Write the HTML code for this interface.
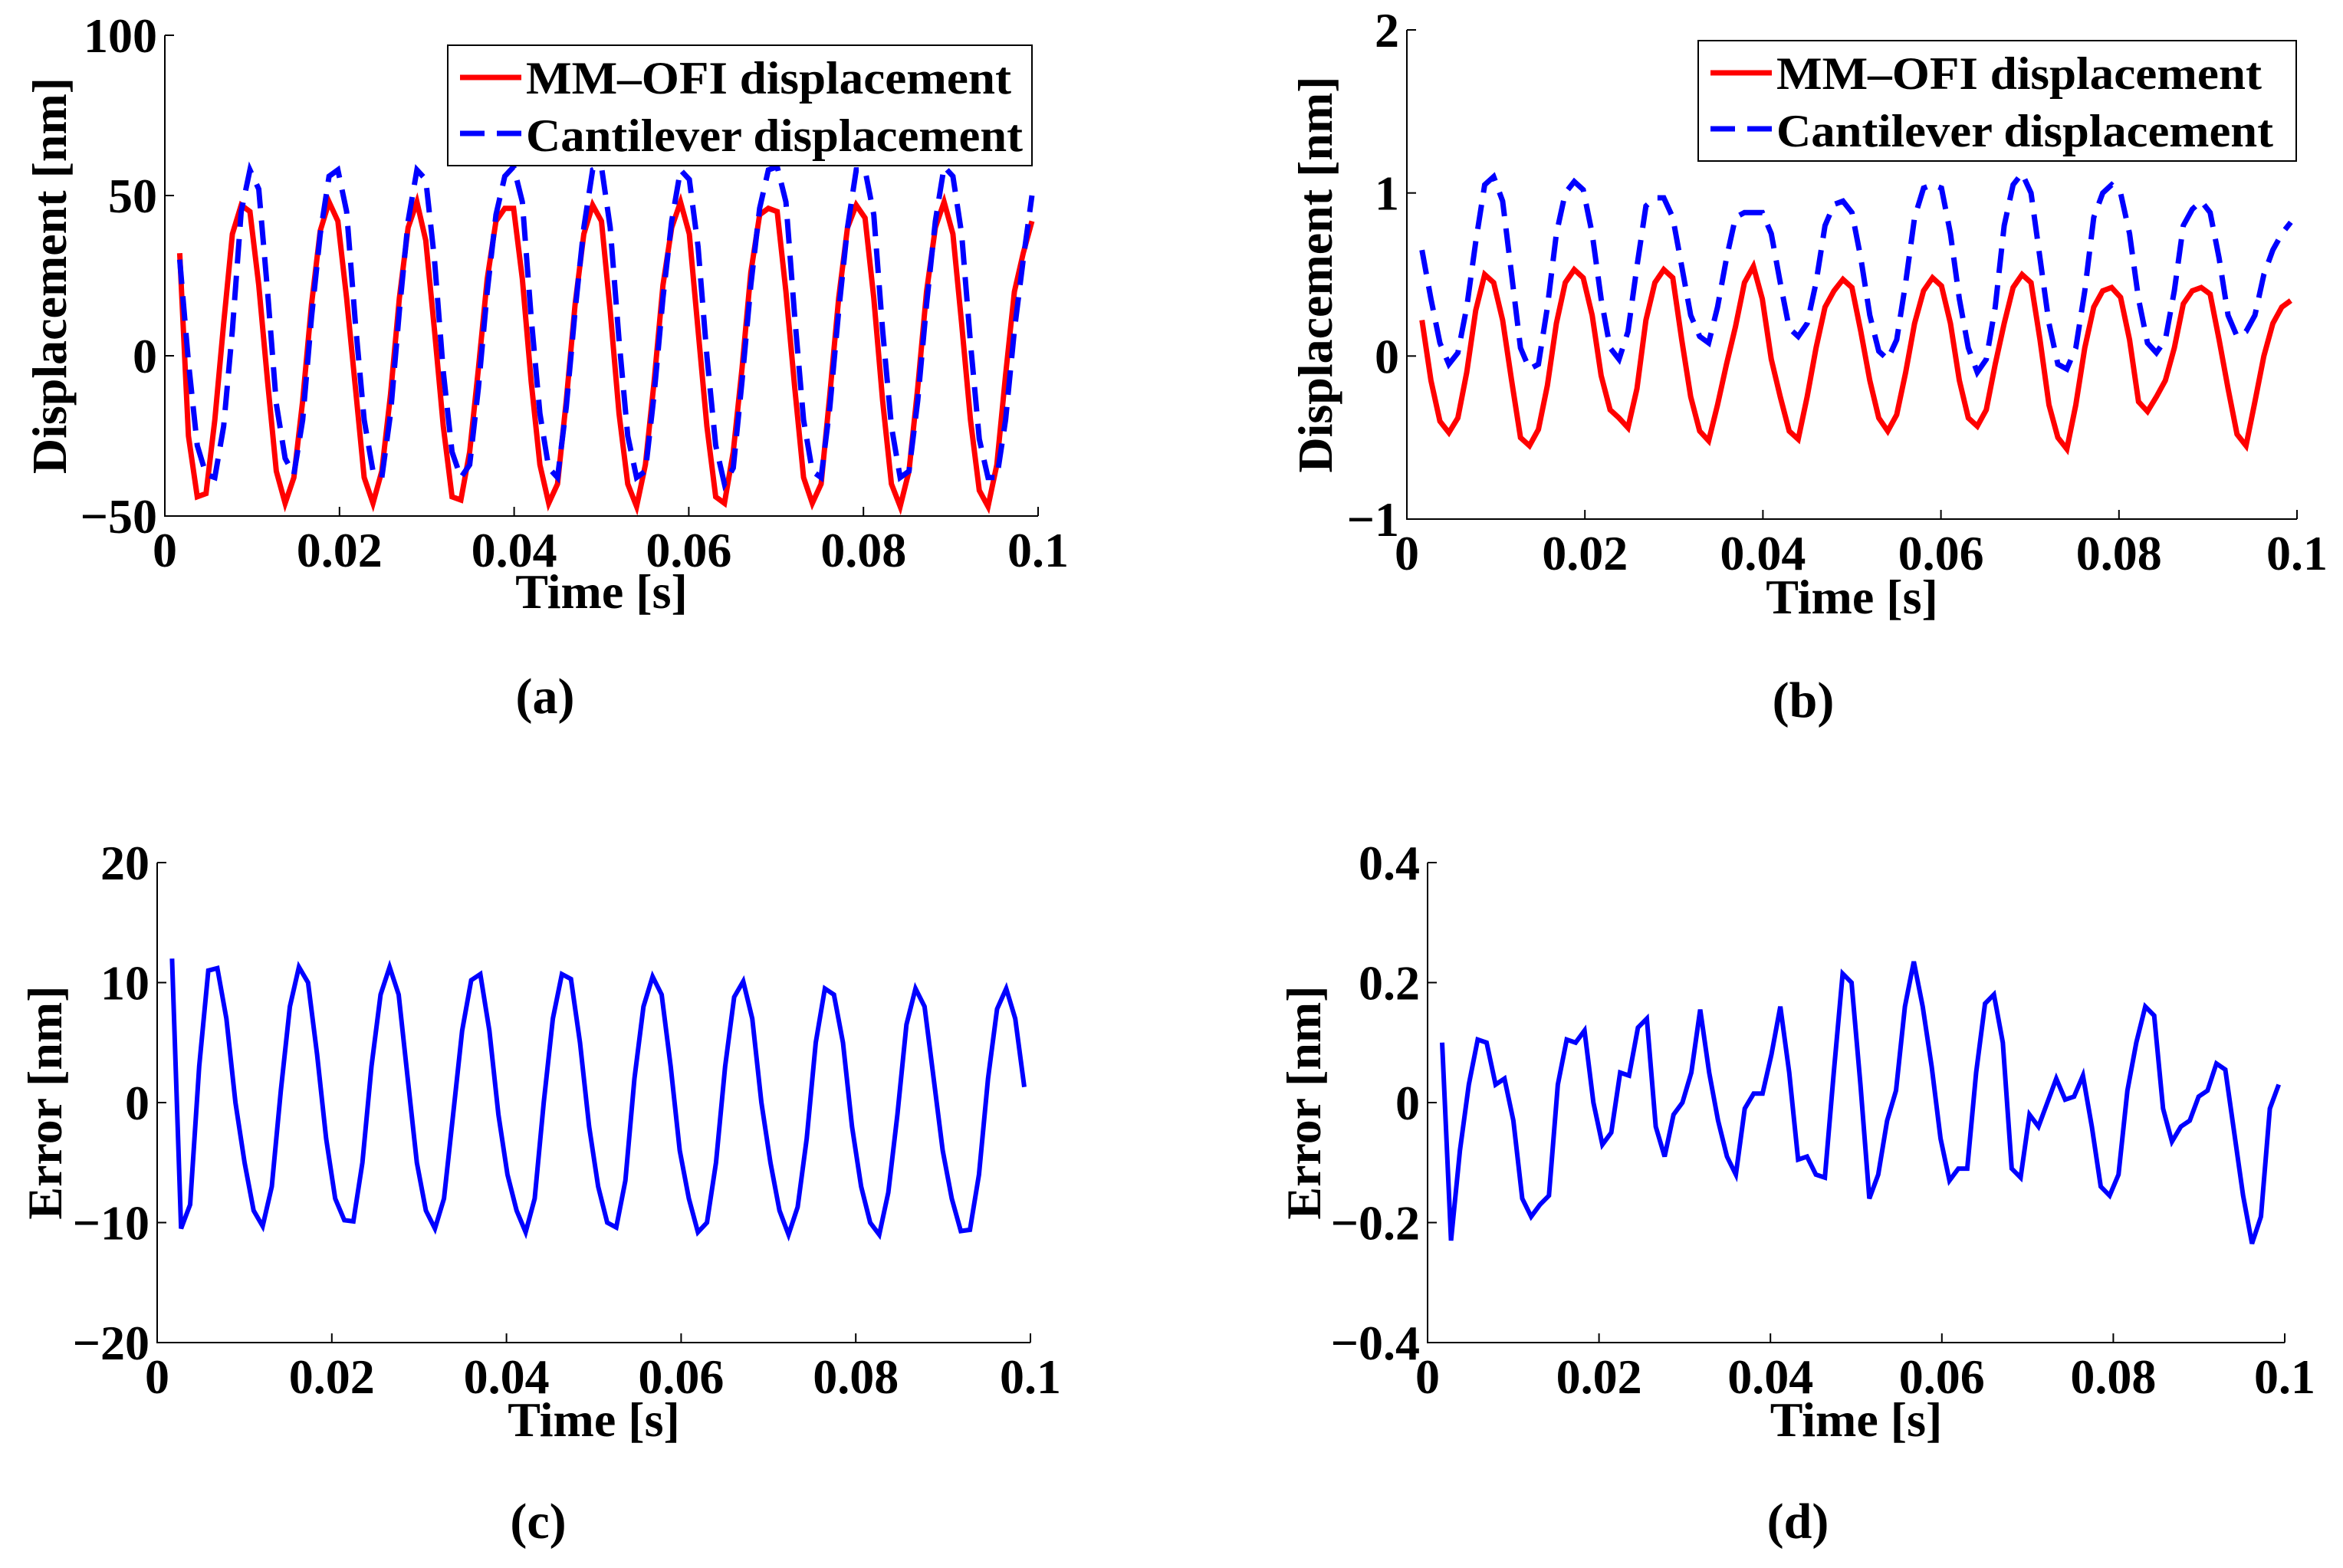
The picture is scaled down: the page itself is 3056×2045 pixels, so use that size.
<!DOCTYPE html>
<html><head><meta charset="utf-8"><style>
html,body{margin:0;padding:0;background:#fff}
svg{display:block}
text{font-family:"Liberation Serif",serif;font-weight:bold;fill:#000}
</style></head><body>
<svg id="fig" width="3056" height="2045" viewBox="0 0 3056 2045" xmlns="http://www.w3.org/2000/svg"></svg>
<script>
// ---- data ----
const tStart = 0.0017;
const tEnd = 0.0993;
const xTicks = [0, 0.02, 0.04, 0.06, 0.08, 0.1];
const xTickLabels = ["0", "0.02", "0.04", "0.06", "0.08", "0.1"];
const aTicks = [-50, 0, 50, 100];
const aTickLabels = ["\u221250", "0", "50", "100"];
const bTicks = [-1, 0, 1, 2];
const bTickLabels = ["\u22121", "0", "1", "2"];
const cTicks = [-20, -10, 0, 10, 20];
const cTickLabels = ["\u221220", "\u221210", "0", "10", "20"];
const dTicks = [-0.4, -0.2, 0, 0.2, 0.4];
const dTickLabels = ["\u22120.4", "\u22120.2", "0", "0.2", "0.4"];

const aOfi = [32,-25,-44,-43,-20,10,38,47,
 45,22,-8,-36,-46,-38,-14,16,39,48,
 42,18,-10,-38,-46,-36,-12,18,40,48,
 36,8,-22,-44,-45,-30,-4,24,42,46,
 46,24,-8,-34,-46,-40,-14,16,38,47,
 42,14,-18,-40,-47,-34,-8,22,40,48,
 38,8,-22,-44,-46,-30,-4,26,44,46,
 45,20,-10,-38,-46,-40,-12,18,40,47,
 43,18,-14,-40,-47,-36,-10,20,40,48,
 38,10,-20,-42,-47,-34,-6,20,32,42];
const aCant = [30,-2,-28,-37,-38,-22,8,45,
 58,52,20,-15,-32,-37,-20,12,38,56,
 58,45,10,-20,-36,-38,-18,14,42,58,
 55,30,-5,-30,-38,-34,-10,20,44,56,
 59,48,12,-18,-35,-38,-16,14,40,58,
 59,40,5,-25,-38,-36,-12,18,42,58,
 55,34,0,-28,-40,-35,-8,22,46,58,
 59,48,12,-20,-36,-38,-16,14,40,58,
 58,44,8,-22,-38,-36,-14,16,42,59,
 56,38,4,-26,-38,-38,-20,8,30,50];
const bOfi = [0.22,-0.15,-0.40,-0.47,-0.38,-0.10,0.28,0.50,
 0.45,0.22,-0.15,-0.50,-0.55,-0.45,-0.18,0.20,0.45,0.53,
 0.48,0.25,-0.12,-0.33,-0.38,-0.44,-0.20,0.22,0.45,0.53,
 0.48,0.10,-0.25,-0.46,-0.52,-0.30,-0.05,0.18,0.45,0.55,
 0.35,-0.02,-0.25,-0.46,-0.51,-0.25,0.05,0.30,0.40,0.47,
 0.42,0.15,-0.15,-0.38,-0.46,-0.36,-0.10,0.20,0.40,0.48,
 0.43,0.20,-0.15,-0.38,-0.43,-0.33,-0.05,0.20,0.42,0.50,
 0.45,0.10,-0.30,-0.50,-0.57,-0.30,0.05,0.30,0.40,0.42,
 0.36,0.10,-0.28,-0.34,-0.25,-0.15,0.05,0.32,0.40,0.42,
 0.38,0.10,-0.20,-0.48,-0.55,-0.28,0.00,0.20,0.30,0.34];
const bCant = [0.65,0.35,0.08,-0.05,0.02,0.30,0.70,1.05,
 1.10,0.95,0.50,0.05,-0.08,-0.05,0.30,0.75,1.00,1.07,
 1.02,0.75,0.35,0.05,-0.02,0.15,0.55,0.92,0.97,0.97,
 0.85,0.55,0.25,0.12,0.08,0.30,0.60,0.85,0.88,0.88,
 0.88,0.75,0.45,0.17,0.12,0.20,0.45,0.80,0.93,0.95,
 0.88,0.60,0.25,0.03,-0.02,0.10,0.45,0.85,1.03,1.05,
 1.03,0.75,0.35,0.05,-0.10,-0.02,0.30,0.80,1.05,1.12,
 1.00,0.60,0.20,-0.05,-0.08,0.05,0.40,0.85,1.00,1.05,
 1.00,0.75,0.35,0.08,0.02,0.10,0.40,0.80,0.90,0.95,
 0.88,0.60,0.25,0.12,0.15,0.25,0.50,0.65,0.75,0.82];
const cErr = [12,-10.5,-8.5,3,11,11.2,7,0,
 -5,-9,-10.3,-7,1,8,11.3,10,4,-3,
 -8,-9.8,-9.9,-5,3,9,11.3,9,2,-5,
 -9,-10.5,-8,-1,6,10.2,10.7,6,-1,-6,
 -9,-10.8,-8,0,7,10.7,10.3,5,-2,-7,
 -10,-10.4,-6.5,2,8,10.5,9,3,-4,-8,
 -10.8,-10,-5,3,8.8,10.1,7,0,-5,-9,
 -11,-8.7,-3,5,9.5,9,5,-2,-7,-10,
 -11,-7.5,-1,6.5,9.5,8,2,-4,-8,-10.7,
 -10.6,-6,2,7.8,9.5,7,1.3];
const dErr = [0.1,-0.23,-0.08,0.03,0.105,0.1,0.03,0.04,-0.03,
 -0.16,-0.19,-0.17,-0.155,0.03,0.105,0.1,0.12,0.0,-0.07,
 -0.05,0.05,0.045,0.125,0.14,-0.04,-0.09,-0.02,0.0,0.05,
 0.155,0.05,-0.03,-0.09,-0.12,-0.01,0.015,0.015,0.08,0.16,
 0.05,-0.095,-0.09,-0.12,-0.125,0.05,0.215,0.2,0.03,-0.16,
 -0.12,-0.03,0.02,0.16,0.235,0.16,0.06,-0.06,-0.13,-0.11,
 -0.11,0.05,0.165,0.18,0.1,-0.11,-0.125,-0.02,-0.04,0.0,
 0.04,0.005,0.01,0.045,-0.04,-0.14,-0.155,-0.12,0.02,0.1,
 0.16,0.145,-0.01,-0.065,-0.04,-0.03,0.01,0.02,0.065,0.055,
 -0.05,-0.155,-0.235,-0.19,-0.01,0.03];

// ---- drawing ----
const NS = "http://www.w3.org/2000/svg";
const svg = document.getElementById('fig');
function mk(tag, attrs, parent) {
  const e = document.createElementNS(NS, tag);
  for (const k in attrs) e.setAttribute(k, attrs[k]);
  (parent || svg).appendChild(e);
  return e;
}
function txt(s, attrs, parent) { const e = mk('text', attrs, parent); e.textContent = s; return e; }

function panel(P) {
  const g = mk('g', {});
  
  
  const sx = v => P.x0 + (v - 0) / 0.1 * (P.x1 - P.x0);
  const sy = v => P.y1 - (v - P.ymin) / (P.ymax - P.ymin) * (P.y1 - P.y0);
  P.series.forEach(s => {
    const n = s.vals.length;
    let d = '';
    s.vals.forEach((v, i) => {
      const t = tStart + i * (tEnd - tStart) / (n - 1);
      d += (i ? 'L' : 'M') + sx(t).toFixed(1) + ',' + sy(v).toFixed(1);
    });
    const p = mk('path', {d: d, fill: 'none', stroke: s.color, 'stroke-width': s.w, 'stroke-linejoin': 'miter', 'stroke-dasharray': s.dash || 'none'}, g);
    
    
  });
  const ax = mk('path', {d: `M${P.x0},${P.y0}V${P.y1}H${P.x1}`, fill: 'none', stroke: '#000', 'stroke-width': 2}, g);
  
  
  xTicks.forEach((v, i) => {
    const x = sx(v);
    mk('line', {x1: x, x2: x, y1: P.y1, y2: P.y1 - 12, stroke: '#000', 'stroke-width': 2}, g);
    const l = txt(xTickLabels[i], {x: x, y: P.y1 + 66, 'font-size': 64, 'text-anchor': 'middle'}, g);
    
    
  });
  P.yTicks.forEach((v, i) => {
    const y = sy(v);
    mk('line', {x1: P.x0, x2: P.x0 + 12, y1: y, y2: y, stroke: '#000', 'stroke-width': 2}, g);
    const l = txt(P.yLabels[i], {x: P.x0 - 10, y: y + 22, 'font-size': 64, 'text-anchor': 'end'}, g);
    
    
  });
  const xt = txt('Time [s]', {x: (P.x0 + P.x1) / 2, y: P.xtY, 'font-size': 64, 'text-anchor': 'middle'}, g);
  
  
  const yc = (P.y0 + P.y1) / 2;
  const yt = txt(P.ytitle, {x: P.ytX, y: yc, 'font-size': 64, 'text-anchor': 'middle', transform: `rotate(-90 ${P.ytX} ${yc})`}, g);
  
  
  const cap = txt(P.cap, {x: P.capX, y: P.capY, 'font-size': 66, 'text-anchor': 'middle'}, g);
  
  
  if (P.legend) {
    const L = P.legend;
    const lg = mk('g', {}, g);
    
    
    mk('rect', {x: L.x, y: L.y, width: L.w, height: L.h, fill: '#fff', stroke: '#000', 'stroke-width': 2}, lg);
    const e1 = mk('line', {x1: L.x + 16, x2: L.x + 96, y1: L.y + 42, y2: L.y + 42, stroke: '#ff0000', 'stroke-width': 7}, lg);
    
    
    txt('MM\u2013OFI displacement', {x: L.x + 102, y: L.y + 63, 'font-size': 60, textLength: 633, lengthAdjust: 'spacingAndGlyphs'}, lg);
    const e2 = mk('line', {x1: L.x + 16, x2: L.x + 96, y1: L.y + 115, y2: L.y + 115, stroke: '#0000ff', 'stroke-width': 7, 'stroke-dasharray': '32 16'}, lg);
    
    
    txt('Cantilever displacement', {x: L.x + 102, y: L.y + 138, 'font-size': 60, textLength: 648, lengthAdjust: 'spacingAndGlyphs'}, lg);
  }
}

panel({name: 'panel-a', x0: 215, x1: 1354, y0: 46, y1: 673, ymin: -50, ymax: 100,
  yTicks: aTicks, yLabels: aTickLabels, ytitle: 'Displacement [nm]', ytX: 86, xtY: 793,
  cap: '(a)', capX: 711, capY: 930,
  series: [{name: 'mm-ofi-line', vals: aOfi, color: '#ff0000', w: 7},
           {name: 'cantilever-line', vals: aCant, color: '#0000ff', w: 7, dash: '32 16'}],
  legend: {x: 584, y: 59, w: 762, h: 157}});
panel({name: 'panel-b', x0: 1835, x1: 2996, y0: 39, y1: 677, ymin: -1, ymax: 2,
  yTicks: bTicks, yLabels: bTickLabels, ytitle: 'Displacement [nm]', ytX: 1737, xtY: 800,
  cap: '(b)', capX: 2352, capY: 935,
  series: [{name: 'mm-ofi-line', vals: bOfi, color: '#ff0000', w: 7},
           {name: 'cantilever-line', vals: bCant, color: '#0000ff', w: 7, dash: '32 16'}],
  legend: {x: 2215, y: 53, w: 780, h: 157}});
panel({name: 'panel-c', x0: 205, x1: 1344, y0: 1125, y1: 1751, ymin: -20, ymax: 20,
  yTicks: cTicks, yLabels: cTickLabels, ytitle: 'Error [nm]', ytX: 80, xtY: 1873,
  cap: '(c)', capX: 702, capY: 2006,
  series: [{name: 'error-line', vals: cErr, color: '#0000ff', w: 6}]});
panel({name: 'panel-d', x0: 1862, x1: 2980, y0: 1125, y1: 1751, ymin: -0.4, ymax: 0.4,
  yTicks: dTicks, yLabels: dTickLabels, ytitle: 'Error [nm]', ytX: 1722, xtY: 1873,
  cap: '(d)', capX: 2345, capY: 2006,
  series: [{name: 'error-line', vals: dErr, color: '#0000ff', w: 6}]});
</script>
</body></html>
